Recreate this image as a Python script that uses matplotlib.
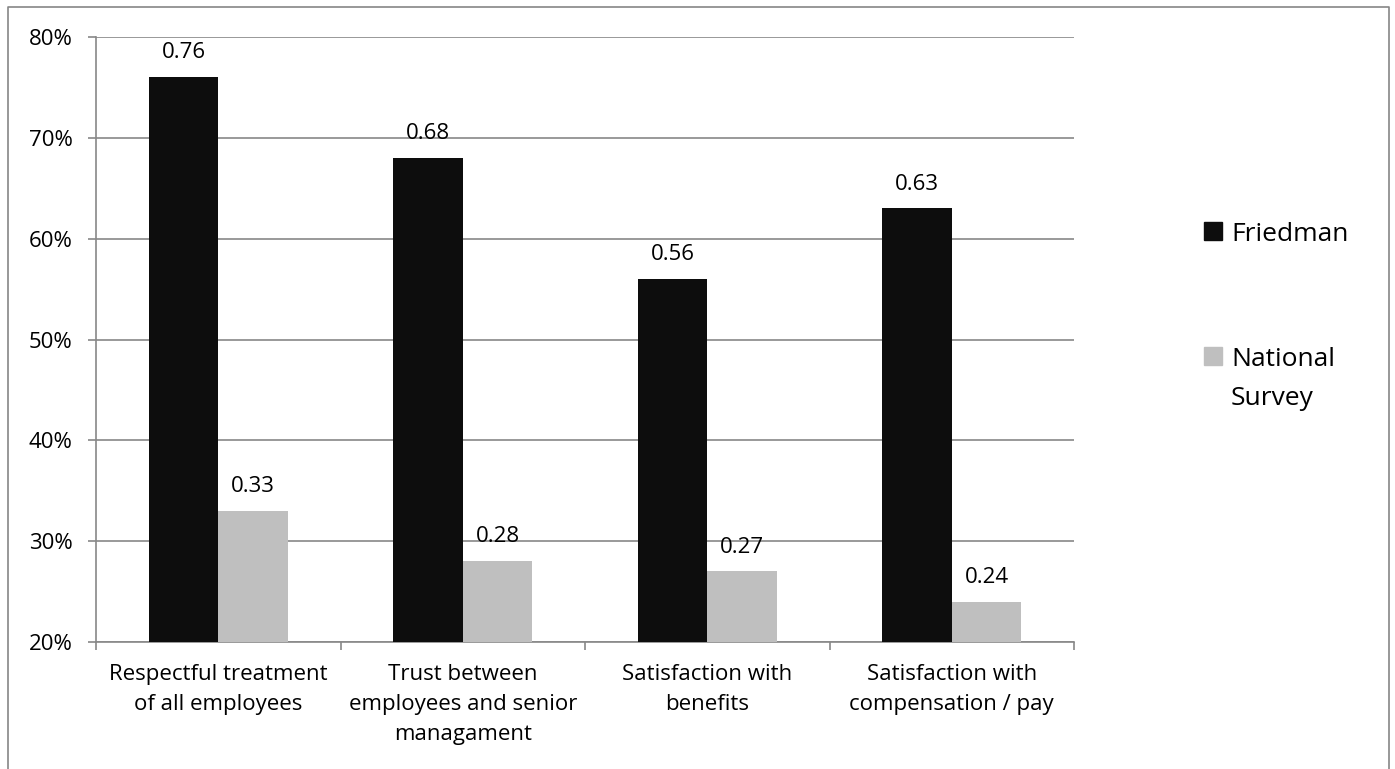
import matplotlib.pyplot as plt
import numpy as np
from matplotlib.lines import Line2D
from matplotlib.patches import Rectangle

plt.rcParams['font.family'] = ['Open Sans', 'DejaVu Sans']

categories = ['Respectful treatment\nof all employees',
              'Trust between\nemployees and senior\nmanagament',
              'Satisfaction with\nbenefits',
              'Satisfaction with\ncompensation / pay']
friedman = [0.76, 0.68, 0.56, 0.63]
national = [0.33, 0.28, 0.27, 0.24]
series_names = ['Friedman', 'National\nSurvey']
series_colors = ['#0d0d0d', '#bfbfbf']
y_ticks = [0.2, 0.3, 0.4, 0.5, 0.6, 0.7, 0.8]

W, H = 1395, 769
fig = plt.figure(figsize=(W / 100, H / 100), dpi=100)
ax = fig.add_axes([96 / W, 1 - 642 / H, (1074 - 96) / W, (642 - 37) / H])

x = np.arange(len(categories))
bw = 0.284
gray = '#888888'
fs = 16
b1 = ax.bar(x - bw / 2, friedman, bw, color=series_colors[0], zorder=3)
b2 = ax.bar(x + bw / 2, national, bw, color=series_colors[1], zorder=3)

for bars, vals in ((b1, friedman), (b2, national)):
    for r, v in zip(bars, vals):
        ax.annotate(f'{v:.2f}', (r.get_x() + r.get_width() / 2, v),
                    xytext=(0, 10), textcoords='offset points',
                    ha='center', va='bottom', fontsize=fs)

ax.set_xlim(-0.5, len(categories) - 0.5)
ax.set_ylim(0.2, 0.8)
ax.set_yticks(y_ticks)
ax.set_yticklabels([f'{int(round(t * 100))}%' for t in y_ticks], fontsize=fs)
ax.yaxis.grid(True, color=gray, linewidth=1.2, zorder=0)

# category labels centered, ticks on group boundaries
ax.set_xticks(x)
ax.set_xticklabels(categories, fontsize=fs, linespacing=1.55)
ax.tick_params(axis='x', length=0, pad=16)
ax.set_xticks(np.arange(-0.5, len(categories)), minor=True)
ax.tick_params(axis='x', which='minor', length=6, color=gray, width=1.2)
ax.tick_params(axis='y', length=6, color=gray, width=1.2, pad=11)

for s in ('top', 'right'):
    ax.spines[s].set_visible(False)
for s in ('left', 'bottom'):
    ax.spines[s].set_color(gray)
    ax.spines[s].set_linewidth(1.2)

# legend: square aligned with the first line of each entry
for name, col, ytop in zip(series_names, series_colors, [222, 347]):
    fig.add_artist(Rectangle((1204 / W, 1 - (ytop + 18) / H), 18 / W, 18 / H,
                             transform=fig.transFigure, color=col))
    fig.text(1231 / W, 1 - ytop / H, name, fontsize=19, va='top',
             ha='left', linespacing=1.72)

# outer chart border (left, top, right)
bx = [8 / W, 8 / W, 1389 / W, 1389 / W]
by = [0, 1 - 7 / H, 1 - 7 / H, 0]
fig.add_artist(Line2D(bx, by, transform=fig.transFigure, color='#868686', linewidth=1.2))

fig.savefig('out.png', dpi=100)
